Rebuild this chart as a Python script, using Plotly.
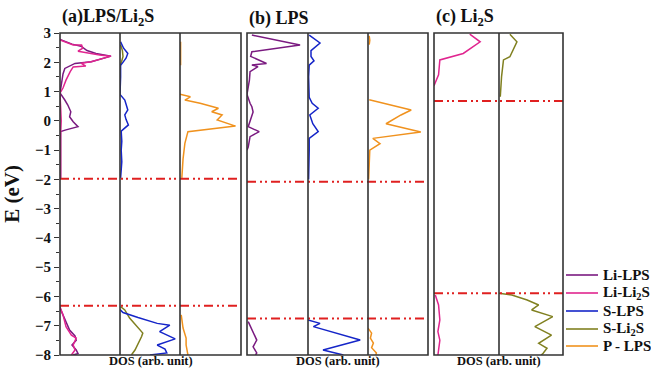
import plotly.graph_objects as go

W, H = 651, 369
SERIF = "Liberation Serif, Times New Roman, serif"

# ---------------- data (E in eV, DOS in arb. unit, 0..1 per sub-panel) ----------------
# Panel (a) LPS/Li2S
a_li_lps_E   = [2.78, 2.62, 2.55, 2.4, 2.3, 2.21, 2.02, 1.96, 1.79, 1.6, 1.2, 0.95, 0.71, 0.54, 0.31, 0.14, -0.03, -0.2, -0.31, -0.37, -0.8, -1.3, -1.95,
                None, -6.4, -6.75, -7.15, -7.35, -7.5, -7.66, -7.83, -7.95, -8.0]
a_li_lps_D   = [0.0, 0.2, 0.35, 0.45, 0.6, 0.85, 0.52, 0.25, 0.08, 0.05, 0.02, 0.0, 0.08, 0.13, 0.18, 0.16, 0.22, 0.3, 0.1, 0.01, 0.01, 0.01, 0.01,
                None, 0.0, 0.08, 0.16, 0.25, 0.27, 0.2, 0.27, 0.3, 0.22]
a_li_li2s_E  = [2.8, 2.76, 2.59, 2.59, 2.48, 2.38, 2.25, 2.21, 2.02, 1.97, 1.87, 1.84, 1.68, 1.39, 1.12, 0.95, 0.5, 0.0, -0.5, -1.0, -1.5, -1.95,
                None, -6.35, -6.63, -7.03, -7.32, -7.42, -7.66, -7.83, -8.0]
a_li_li2s_D  = [0.0, 0.0, 0.22, 0.36, 0.38, 0.3, 0.66, 0.85, 0.52, 0.35, 0.43, 0.22, 0.17, 0.1, 0.05, 0.0, 0.01, 0.02, 0.01, 0.01, 0.01, 0.01,
                None, 0.0, 0.05, 0.1, 0.19, 0.27, 0.22, 0.25, 0.19]
a_s_lps_E    = [2.7, 2.48, 2.3, 2.14, 1.97, 1.9, 1.5, 1.0, 0.9, 0.71, 0.55, 0.37, 0.2, 0.05, -0.14, -0.35, -0.7, -1.0, -1.4, -1.95,
                None, -6.45, -6.55, -6.72, -6.92, -6.98, -7.2, -7.45, -7.66, -7.8, -7.93, -8.0]
a_s_lps_D    = [0.01, 0.06, 0.13, 0.1, 0.04, 0.01, 0.01, 0.01, 0.0, 0.08, 0.1, 0.13, 0.08, 0.1, 0.14, 0.02, 0.03, 0.02, 0.03, 0.01,
                None, 0.0, 0.05, 0.3, 0.62, 0.83, 0.66, 0.92, 0.62, 0.75, 0.78, 0.5]
a_s_li2s_E   = [2.6, 2.4, 2.2, 2.0, 1.9,
                None, -6.35, -6.46, -6.74, -6.98, -7.25, -7.37, -7.6, -7.83, -8.0]
a_s_li2s_D   = [0.01, 0.04, 0.05, 0.03, 0.01,
                None, 0.01, 0.08, 0.16, 0.27, 0.38, 0.36, 0.3, 0.25, 0.19]
a_p_lps_E    = [2.7, 2.3, 1.9,
                None, 0.91, 0.82, 0.71, 0.6, 0.43, 0.31, 0.2, 0.03, -0.18, -0.37, -0.77, -1.3, -1.95,
                None, -6.63, -7.08, -7.42, -7.66, -8.0]
a_p_lps_D    = [0.01, 0.01, 0.01,
                None, 0.0, 0.17, 0.08, 0.33, 0.63, 0.52, 0.69, 0.61, 0.91, 0.13, 0.08, 0.05, 0.03,
                None, 0.02, 0.05, 0.1, 0.1, 0.13]

# Panel (b) LPS
b_li_lps_E   = [2.93, 2.59, 2.36, 2.2, 1.96, 1.91, 1.85, 1.68, 1.4, 1.1, 0.9, 0.6, 0.48, 0.3, 0.0, -0.2, -0.37, -0.54, -0.9, -1.0,
                None, -6.86, -7.15, -7.49, -7.72, -7.93, -8.0]
b_li_lps_D   = [0.08, 0.87, 0.08, 0.06, 0.32, 0.08, 0.18, 0.05, 0.04, 0.02, 0.0, 0.05, 0.08, 0.1, 0.05, 0.02, 0.2, 0.05, 0.02, 0.0,
                None, 0.02, 0.08, 0.16, 0.1, 0.16, 0.14]
b_s_lps_E    = [2.93, 2.66, 2.4, 2.2, 2.05, 1.9, 1.5, 1.0, 0.8, 0.6, 0.43, 0.2, -0.1, -0.37, -0.6, -1.0, -1.5, -2.0,
                None, -6.8, -6.92, -7.03, -7.2, -7.49, -7.83, -8.0]
b_s_lps_D    = [0.02, 0.2, 0.05, 0.05, 0.1, 0.02, 0.01, 0.01, 0.02, 0.07, 0.17, 0.03, 0.08, 0.17, 0.02, 0.02, 0.01, 0.01,
                None, 0.0, 0.2, 0.09, 0.39, 0.87, 0.25, 0.59]
b_p_lps_E    = [2.9, 2.75, 2.6,
                None, 0.72, 0.54, 0.37, 0.2, -0.1, -0.38, -0.6, -0.78, -1.0, -1.5, -2.0,
                None, -7.08, -7.25, -7.42, -7.59, -7.75, -7.93, -8.0]
b_p_lps_D    = [0.02, 0.03, 0.02,
                None, 0.02, 0.39, 0.72, 0.55, 0.3, 0.88, 0.08, 0.2, 0.03, 0.02, 0.01,
                None, 0.0, 0.06, 0.04, 0.09, 0.06, 0.14, 0.13]

# Panel (c) Li2S
c_li_li2s_E  = [2.96, 2.7, 2.3, 2.08, 1.57, 1.29, 1.2,
                None, -5.95, -6.29, -6.8, -7.2, -7.5, -8.0]
c_li_li2s_D  = [0.55, 0.71, 0.45, 0.09, 0.07, 0.02, 0.0,
                None, 0.02, 0.07, 0.09, 0.06, 0.09, 0.06]
c_s_li2s_E   = [2.96, 2.7, 2.19, 2.08, 1.51, 0.82,
                None, -5.89, -5.95, -6.12, -6.29, -6.46, -6.69, -7.03, -7.32, -7.6, -7.77, -7.94, -8.0]
c_s_li2s_D   = [0.17, 0.28, 0.17, 0.07, 0.04, 0.02,
                None, 0.0, 0.2, 0.44, 0.62, 0.51, 0.84, 0.56, 0.82, 0.62, 0.75, 0.69, 0.66]

# Fermi / band-edge reference levels (eV)
fermi_a = [-1.98, -6.32]
fermi_b = [-2.08, -6.75]
fermi_c = [0.68, -5.89]

series_names  = ["Li-LPS", "Li-Li<sub>2</sub>S", "S-LPS", "S-Li<sub>2</sub>S", "P - LPS"]
series_colors = ["#7a1a80", "#e0258f", "#1525c8", "#808020", "#f0921e"]

y_ticks = [3, 2, 1, 0, -1, -2, -3, -4, -5, -6, -7, -8]

# ---------------- layout geometry (pixels) ----------------
sub_px = [(60, 120), (120, 180), (180, 241),
          (247, 308), (308, 368), (368, 428),
          (434, 499), (499, 563)]
y_top_px, y_bot_px = 33, 355
panel_px = [(60, 241), (247, 428), (434, 563)]

fig = go.Figure()

# (subpanel index, E, D, series index)
traces = [
    (0, a_li_lps_E, a_li_lps_D, 0), (0, a_li_li2s_E, a_li_li2s_D, 1),
    (1, a_s_li2s_E, a_s_li2s_D, 3), (1, a_s_lps_E, a_s_lps_D, 2),
    (2, a_p_lps_E, a_p_lps_D, 4),
    (3, b_li_lps_E, b_li_lps_D, 0),
    (4, b_s_lps_E, b_s_lps_D, 2),
    (5, b_p_lps_E, b_p_lps_D, 4),
    (6, c_li_li2s_E, c_li_li2s_D, 1),
    (7, c_s_li2s_E, c_s_li2s_D, 3),
]

line_col = "#333333"
for k, (x0, x1) in enumerate(sub_px):
    sfx = "" if k == 0 else str(k + 1)
    fig.layout["xaxis" + sfx] = dict(
        domain=[x0 / W, x1 / W], range=[0, 1], anchor="y" + sfx,
        showline=False, showgrid=False, zeroline=False,
        showticklabels=False, ticks="")
    ya = dict(
        domain=[1 - y_bot_px / H, 1 - y_top_px / H], range=[-8, 3],
        anchor="x" + sfx, showline=False, showgrid=False, zeroline=False)
    if k == 0:
        ya.update(tickvals=y_ticks, ticks="outside", ticklen=5, tickwidth=1.3,
                  tickcolor=line_col,
                  tickfont=dict(family=SERIF, size=15, color="#111", weight="bold"),
                  minor=dict(dtick=0.5, ticks="outside", ticklen=3, tickwidth=1,
                             tickcolor=line_col, showgrid=False),
                  title=dict(text="E (eV)", standoff=10,
                             font=dict(family=SERIF, size=21, color="#111", weight="bold")))
    else:
        ya.update(showticklabels=False, ticks="")
    fig.layout["yaxis" + sfx] = ya

for k, E, D, s in traces:
    sfx = "" if k == 0 else str(k + 1)
    fig.add_trace(go.Scatter(
        x=D, y=E, mode="lines", xaxis="x" + sfx, yaxis="y" + sfx,
        line=dict(color=series_colors[s], width=1.5),
        name=series_names[s], showlegend=False, connectgaps=False,
        hoverinfo="skip"))

# Fermi (reference) levels as dash-dot-dot lines across each panel
for (px0, px1), levels in zip(panel_px, [fermi_a, fermi_b, fermi_c]):
    for e in levels:
        fig.add_shape(type="line", xref="paper", yref="y", x0=px0 / W, x1=px1 / W,
                      y0=e, y1=e, line=dict(color="#e02020", width=2,
                                            dash="9px,4px,2px,3px,2px,4px"))

# Frames: outer boxes and sub-panel dividers
y0p, y1p = 1 - y_bot_px / H, 1 - y_top_px / H
for px0, px1 in panel_px:
    fig.add_shape(type="rect", xref="paper", yref="paper", x0=px0 / W, x1=px1 / W,
                  y0=y0p, y1=y1p, line=dict(color=line_col, width=1.6),
                  fillcolor="rgba(0,0,0,0)", layer="above")
for k, (x0, x1) in enumerate(sub_px):
    if k in (0, 3, 6):
        continue
    fig.add_shape(type="line", xref="paper", yref="paper", x0=x0 / W, x1=x0 / W,
                  y0=y0p, y1=y1p, line=dict(color=line_col, width=1.6), layer="above")

# Panel titles and x-axis labels
titles = ["(a)LPS/Li<sub>2</sub>S", "(b) LPS", "(c) Li<sub>2</sub>S"]
for (px0, px1), t in zip(panel_px, titles):
    fig.add_annotation(text="<b>" + t + "</b>", xref="paper", yref="paper",
                       x=px0 / W, y=1 - 31 / H, xanchor="left", yanchor="bottom",
                       showarrow=False, font=dict(family=SERIF, size=18, color="#111"))
    fig.add_annotation(text="<b>DOS (arb. unit)</b>", xref="paper", yref="paper",
                       x=(px0 + px1) / 2 / W, y=0, xanchor="center",
                       yanchor="bottom", borderpad=0, showarrow=False,
                       font=dict(family=SERIF, size=12.5, color="#111"))

# Legend (drawn manually to match the compact row spacing)
leg_rows_px = [275, 293, 311, 329, 346]
for name, col, ry in zip(series_names, series_colors, leg_rows_px):
    yy = 1 - ry / H
    fig.add_shape(type="line", xref="paper", yref="paper", x0=566 / W, x1=598 / W,
                  y0=yy, y1=yy, line=dict(color=col, width=1.6))
    fig.add_annotation(text="<b>" + name + "</b>", xref="paper", yref="paper",
                       x=601 / W, y=yy, xanchor="left", yanchor="middle",
                       showarrow=False, font=dict(family=SERIF, size=15, color="#111"))

fig.update_layout(
    width=W, height=H, margin=dict(l=0, r=0, t=0, b=0, autoexpand=False),
    paper_bgcolor="white", plot_bgcolor="white", showlegend=False,
)

fig.write_html("out.html")
